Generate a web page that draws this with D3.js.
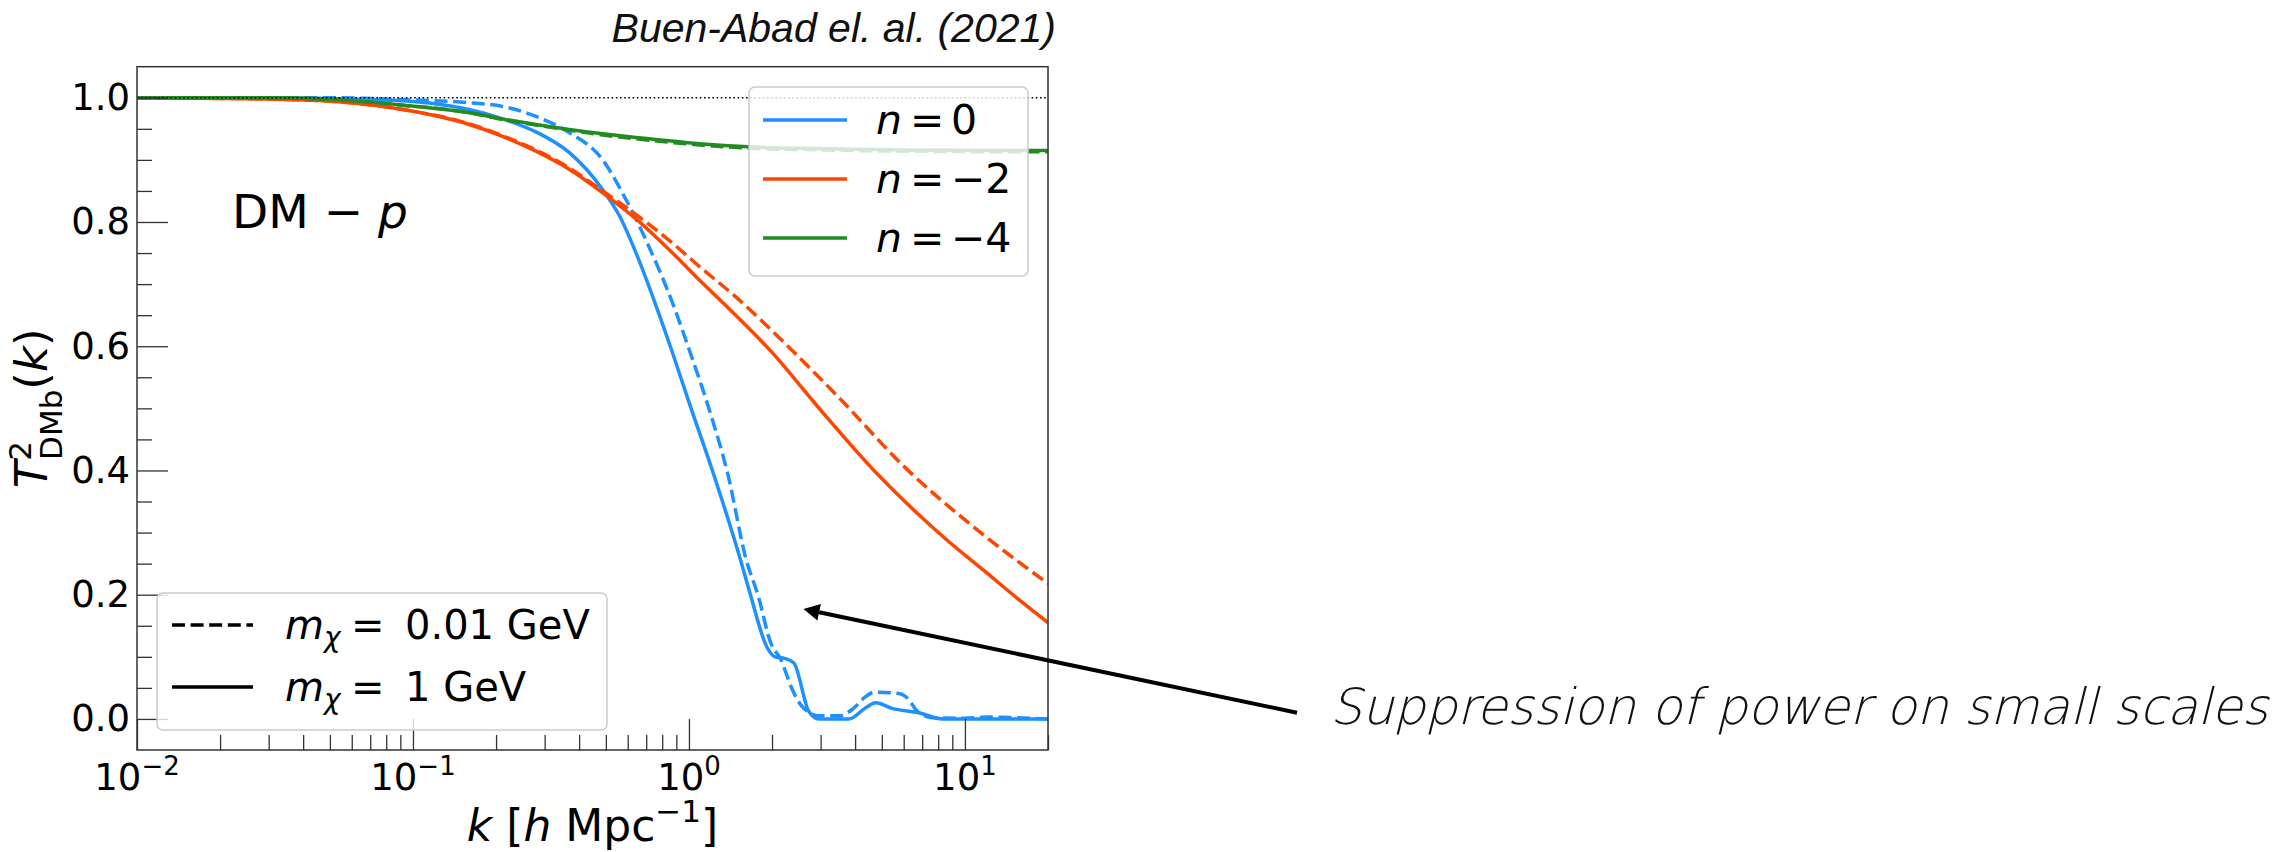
<!DOCTYPE html>
<html>
<head>
<meta charset="utf-8">
<script src="https://cdn.jsdelivr.net/npm/d3@7"></script>
<style>
  html, body { margin: 0; padding: 0; background: #fff; }
  svg { display: block; }
  text { font-family: "DejaVu Sans", sans-serif; fill: #000; }
</style>
</head>
<body>
<svg id="chart" width="2289" height="852"></svg>
<script>
// ---- data: [k (h/Mpc), T^2] ----
const n0_1GeV = [
  [0.01, 1.0], [0.03, 1.0], [0.05, 0.999], [0.07, 0.997], [0.1, 0.994],
  [0.16, 0.981], [0.211, 0.966], [0.279, 0.945], [0.368, 0.912], [0.487, 0.852],
  [0.56, 0.81], [0.65, 0.745], [0.76, 0.665], [0.871, 0.59], [1.0, 0.51],
  [1.237, 0.39], [1.54, 0.255], [1.67, 0.20], [1.92, 0.115], [2.05, 0.100],
  [2.2, 0.098], [2.4, 0.090], [2.72, 0.012], [2.96, 0.0], [3.8, 0.0],
  [4.37, 0.018], [4.75, 0.026], [5.45, 0.017], [6.81, 0.010], [8.28, 0.0], [20, 0.0]
];
const n0_001GeV = [
  [0.01, 1.0], [0.05, 1.0], [0.092, 0.997], [0.16, 0.992], [0.211, 0.986],
  [0.279, 0.970], [0.368, 0.944], [0.487, 0.900], [0.577, 0.845], [0.7, 0.77],
  [0.88, 0.665], [1.01, 0.59], [1.2, 0.49], [1.39, 0.39], [1.60, 0.262],
  [1.79, 0.195], [1.98, 0.122], [2.15, 0.096], [2.37, 0.047], [2.57, 0.020],
  [2.96, 0.005], [3.5, 0.005], [3.9, 0.015], [4.37, 0.036], [4.68, 0.043],
  [5.77, 0.041], [6.1, 0.036], [6.81, 0.010], [7.6, 0.002], [10, 0.001],
  [12, 0.003], [20, 0.0]
];
const nm2_1GeV = [
  [0.01, 1.0], [0.02, 0.999], [0.03, 0.998], [0.0526, 0.994], [0.092, 0.981],
  [0.16, 0.957], [0.211, 0.938], [0.279, 0.914], [0.368, 0.885], [0.487, 0.847],
  [0.643, 0.805], [0.85, 0.755], [1.1, 0.705], [1.4, 0.66], [2.0, 0.59],
  [2.9, 0.505], [4.8, 0.395], [8.5, 0.29], [12, 0.235], [15.9, 0.19], [20, 0.155]
];
const nm2_001GeV = [
  [0.01, 1.0], [0.02, 0.999], [0.03, 0.998], [0.0526, 0.994], [0.092, 0.981],
  [0.16, 0.958], [0.211, 0.939], [0.279, 0.916], [0.368, 0.887], [0.487, 0.850],
  [0.643, 0.812], [0.85, 0.77], [1.1, 0.727], [1.5, 0.677], [2.2, 0.607],
  [3.5, 0.517], [6.0, 0.407], [11.4, 0.30], [20, 0.218]
];
const nm4_1GeV = [
  [0.01, 1.0], [0.03, 1.0], [0.0526, 0.997], [0.092, 0.988], [0.16, 0.976],
  [0.211, 0.966], [0.279, 0.957], [0.368, 0.949], [0.487, 0.942], [0.643, 0.936],
  [1.09, 0.926], [1.64, 0.921], [3, 0.918], [6, 0.916], [20, 0.915]
];
const nm4_001GeV = [
  [0.01, 1.0], [0.03, 1.0], [0.0526, 0.997], [0.092, 0.988], [0.16, 0.976],
  [0.211, 0.965], [0.279, 0.956], [0.368, 0.948], [0.487, 0.940], [0.643, 0.934],
  [1.09, 0.924], [1.64, 0.919], [3, 0.916], [6, 0.914], [20, 0.913]
];

const nLabels = ["0", "\u22122", "\u22124"];
const nColors = ["#1E90FF", "#FF4500", "#228B22"];
const massLabels = ["0.01 GeV", "1 GeV"];
const yMajor = [0, 0.2, 0.4, 0.6, 0.8, 1.0];
const kMajor = [0.01, 0.1, 1, 10];
const kMajorExp = ["\u22122", "\u22121", "0", "1"];

// curves: [data, colour index, dashed?]
const curves = [
  [n0_1GeV, 0, false], [n0_001GeV, 0, true],
  [nm2_1GeV, 1, false], [nm2_001GeV, 1, true],
  [nm4_1GeV, 2, false], [nm4_001GeV, 2, true]
];

const M = { left: 137, right: 1048, top: 66.7, bottom: 750 };
const LW = 3.5;
const DASH = "13,5.6";

const svg = d3.select("#chart");

const x = d3.scaleLog().domain([0.01, 20]).range([M.left, M.right]);
const y = d3.scaleLinear().domain([-0.05, 1.05]).range([M.bottom, M.top]);

svg.append("defs").append("clipPath").attr("id", "plotClip")
  .append("rect")
  .attr("x", M.left).attr("y", M.top)
  .attr("width", M.right - M.left).attr("height", M.bottom - M.top);

// title
svg.append("text")
  .attr("x", 1056).attr("y", 42)
  .attr("text-anchor", "end")
  .style("font-family", "'Liberation Sans', Arial, sans-serif")
  .style("font-style", "italic")
  .style("font-size", "41px")
  .style("fill", "#111")
  .text("Buen-Abad el. al. (2021)");

// curves
const line = d3.line()
  .x(d => x(d[0]))
  .y(d => y(d[1]))
  .curve(d3.curveMonotoneX);

const plot = svg.append("g").attr("clip-path", "url(#plotClip)");
curves.forEach(([data, ci, dashed]) => {
  plot.append("path")
    .datum(data)
    .attr("d", line)
    .attr("fill", "none")
    .attr("stroke", nColors[ci])
    .attr("stroke-width", LW)
    .attr("stroke-dasharray", dashed ? DASH : null)
    .attr("stroke-linejoin", "round");
});

// dotted reference at T^2 = 1
plot.append("line")
  .attr("x1", M.left).attr("x2", M.right)
  .attr("y1", y(1)).attr("y2", y(1))
  .attr("stroke", "#000")
  .attr("stroke-width", 1.6)
  .attr("stroke-dasharray", "1.6,2.6");

// axes (ticks inward)
const yMinor = d3.range(0, 1.0001, 0.05).filter(v => !yMajor.some(m => Math.abs(m - v) < 1e-6));
const kMinor = [];
[-2, -1, 0, 1].forEach(e => {
  for (let m = 2; m <= 9; m++) {
    const v = m * Math.pow(10, e);
    if (v <= 20) kMinor.push(v);
  }
});

const styleAxis = g => {
  g.select(".domain").remove();
  g.selectAll("line").attr("stroke", "#333").attr("stroke-width", 1.3);
};

svg.append("g")
  .attr("transform", `translate(${M.left},0)`)
  .call(d3.axisLeft(y).tickValues(yMinor).tickSize(-15).tickFormat(""))
  .call(styleAxis);

svg.append("g")
  .attr("transform", `translate(${M.left},0)`)
  .call(d3.axisLeft(y).tickValues(yMajor).tickSize(-31).tickPadding(7).tickFormat(d3.format(".1f")))
  .call(styleAxis)
  .call(g => g.selectAll("text")
    .style("font-family", "'DejaVu Sans', sans-serif")
    .style("font-size", "37px")
    .style("fill", "#000"));

svg.append("g")
  .attr("transform", `translate(0,${M.bottom})`)
  .call(d3.axisBottom(x).tickValues(kMinor).tickSize(-15).tickFormat(""))
  .call(styleAxis);

svg.append("g")
  .attr("transform", `translate(0,${M.bottom})`)
  .call(d3.axisBottom(x).tickValues(kMajor).tickSize(-31).tickFormat(""))
  .call(styleAxis);

// x tick labels 10^n
const xl = svg.append("g");
kMajor.forEach((k, i) => {
  const t = xl.append("text")
    .attr("x", x(k)).attr("y", 790)
    .attr("text-anchor", "middle")
    .style("font-size", "37px");
  t.append("tspan").text("10");
  t.append("tspan").attr("dy", -15).style("font-size", "26px").text(kMajorExp[i]);
});

// spines
svg.append("rect")
  .attr("x", M.left).attr("y", M.top)
  .attr("width", M.right - M.left).attr("height", M.bottom - M.top)
  .attr("fill", "none")
  .attr("stroke", "#333")
  .attr("stroke-width", 1.5);

// axis labels
const xlab = svg.append("text")
  .attr("x", (M.left + M.right) / 2).attr("y", 841)
  .attr("text-anchor", "middle")
  .style("font-size", "44px");
xlab.append("tspan").style("font-style", "italic").text("k");
xlab.append("tspan").text(" [");
xlab.append("tspan").style("font-style", "italic").text("h");
xlab.append("tspan").text(" Mpc");
xlab.append("tspan").attr("dy", -19).style("font-size", "31px").text("\u22121");
xlab.append("tspan").attr("dy", 19).text("]");

const ylab = svg.append("text")
  .attr("transform", `translate(47,${(M.top + M.bottom) / 2}) rotate(-90)`)
  .attr("text-anchor", "middle")
  .style("font-size", "45px");
ylab.append("tspan").style("font-style", "italic").text("T");
ylab.append("tspan").attr("dy", -16).style("font-size", "31px").text("2");
ylab.append("tspan").attr("dx", -19).attr("dy", 31).style("font-size", "31px").text("DMb");
ylab.append("tspan").attr("dy", -15).text("(");
ylab.append("tspan").style("font-style", "italic").text("k");
ylab.append("tspan").text(")");

// DM - p label
const dm = svg.append("text")
  .attr("x", 232).attr("y", 228)
  .style("font-size", "47px");
dm.append("tspan").text("DM \u2212 ");
dm.append("tspan").style("font-style", "italic").text("p");

// legend: n
const leg1 = svg.append("g");
leg1.append("rect")
  .attr("x", 749).attr("y", 87).attr("width", 279).attr("height", 189)
  .attr("rx", 6)
  .attr("fill", "#fff").attr("fill-opacity", 0.8)
  .attr("stroke", "#cccccc").attr("stroke-width", 1.5);
nLabels.forEach((lab, i) => {
  const ly = 120 + i * 59;
  leg1.append("line")
    .attr("x1", 763).attr("x2", 847).attr("y1", ly).attr("y2", ly)
    .attr("stroke", nColors[i]).attr("stroke-width", LW);
  const t = leg1.append("text").attr("y", ly + 14).style("font-size", "41px");
  t.append("tspan").attr("x", 876).style("font-style", "italic").text("n");
  t.append("tspan").attr("x", 910).text("=");
  t.append("tspan").attr("x", 951).text(lab);
});

// legend: mass
const leg2 = svg.append("g");
leg2.append("rect")
  .attr("x", 157).attr("y", 593).attr("width", 450).attr("height", 137)
  .attr("rx", 6)
  .attr("fill", "#fff").attr("fill-opacity", 0.8)
  .attr("stroke", "#cccccc").attr("stroke-width", 1.5);
massLabels.forEach((lab, i) => {
  const ly = 625 + i * 62;
  leg2.append("line")
    .attr("x1", 172).attr("x2", 253).attr("y1", ly).attr("y2", ly)
    .attr("stroke", "#000").attr("stroke-width", LW)
    .attr("stroke-dasharray", i === 0 ? DASH : null);
  const t = leg2.append("text").attr("y", ly + 14).style("font-size", "40px");
  t.append("tspan").attr("x", 285).style("font-style", "italic").text("m");
  t.append("tspan").attr("dy", 8).style("font-size", "28px").style("font-style", "italic").text("\u03c7");
  t.append("tspan").attr("x", 351).attr("dy", -8).text("=");
  t.append("tspan").attr("x", 405).text(lab);
});

// annotation with arrow
const annTarget = [2.6, 0.177];
const annStart = [1297, 712.7];
const tip = [x(annTarget[0]), y(annTarget[1])];
const ddx = tip[0] - annStart[0], ddy = tip[1] - annStart[1];
const len = Math.hypot(ddx, ddy);
const ux = ddx / len, uy = ddy / len;
const headL = 16, headW = 8.5;
const base = [tip[0] - ux * headL, tip[1] - uy * headL];
svg.append("line")
  .attr("x1", annStart[0]).attr("y1", annStart[1])
  .attr("x2", base[0]).attr("y2", base[1])
  .attr("stroke", "#000").attr("stroke-width", 4);
svg.append("path")
  .attr("d", d3.line()([
    tip,
    [base[0] - uy * headW, base[1] + ux * headW],
    [base[0] + uy * headW, base[1] - ux * headW]
  ]) + "Z")
  .attr("fill", "#000");

svg.append("text")
  .attr("x", 1330).attr("y", 724)
  .attr("textLength", 938).attr("lengthAdjust", "spacingAndGlyphs")
  .style("font-family", "'DejaVu Sans Light', 'Open Sans', Lato, sans-serif")
  .style("font-weight", "300")
  .style("font-style", "italic")
  .style("font-size", "50px")
  .style("fill", "#111")
  .text("Suppression of power on small scales");
</script>
</body>
</html>
